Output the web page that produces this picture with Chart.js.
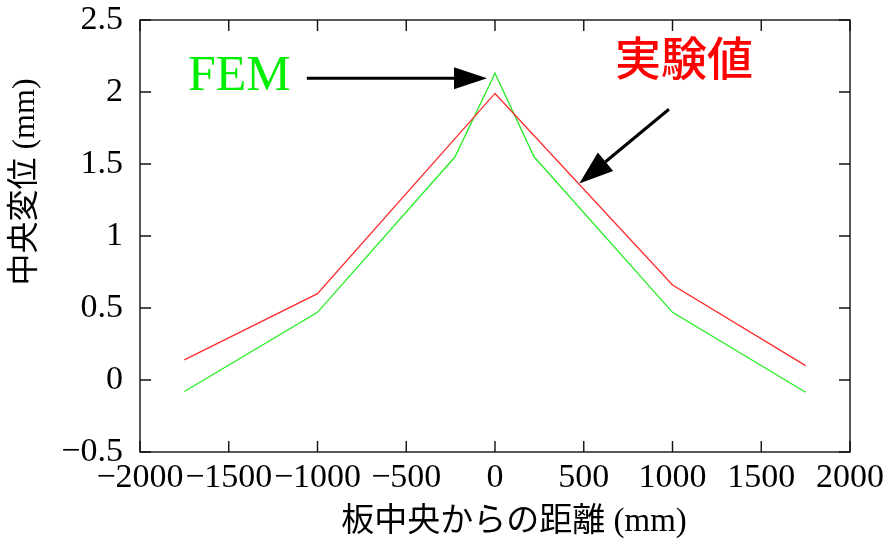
<!DOCTYPE html>
<html>
<head>
<meta charset="utf-8">
<script src="https://cdn.jsdelivr.net/npm/chart.js@4"></script>
<style>
html,body{margin:0;padding:0;background:#fff;}
#wrap{width:895px;height:546px;}
</style>
</head>
<body>
<div id="wrap"><canvas id="c" width="895" height="546"></canvas></div>
<script>
// Data
const xExp = [-1750, -1000, 0, 1000, 1750];
const yExp = [0.14, 0.60, 1.99, 0.66, 0.10];
const xFem = [-1750, -1000, -225, 0, 220, 1000, 1750];
const yFem = [-0.08, 0.47, 1.55, 2.13, 1.55, 0.47, -0.085];
const xTicks = [-2000, -1500, -1000, -500, 0, 500, 1000, 1500, 2000];
const yTicks = [-0.5, 0, 0.5, 1, 1.5, 2, 2.5];
const labelExp = '実験値';
const labelFem = 'FEM';
const xTitle = '板中央からの距離 (mm)';
const yTitle = '中央変位 (mm)';

const fmt = v => (v < 0 ? '\u2212' + String(-v) : String(v));

const framePlugin = {
  id: 'frame',
  afterDraw(chart) {
    const ctx = chart.ctx, a = chart.chartArea;
    const xs = chart.scales.x, ys = chart.scales.y;
    ctx.save();
    ctx.strokeStyle = '#111';
    ctx.lineWidth = 1.4;
    ctx.strokeRect(a.left, a.top, a.right - a.left, a.bottom - a.top);
    const L = 11;
    ctx.beginPath();
    xTicks.forEach(t => {
      const px = xs.getPixelForValue(t);
      ctx.moveTo(px, a.bottom); ctx.lineTo(px, a.bottom - L);
      ctx.moveTo(px, a.top); ctx.lineTo(px, a.top + L);
    });
    yTicks.forEach(t => {
      const py = ys.getPixelForValue(t);
      ctx.moveTo(a.left, py); ctx.lineTo(a.left + L, py);
      ctx.moveTo(a.right, py); ctx.lineTo(a.right - L, py);
    });
    ctx.stroke();

    // annotations
    const arrow = (x1, y1, x2, y2, hl, hw) => {
      const ang = Math.atan2(y2 - y1, x2 - x1);
      const bx = x2 - hl * Math.cos(ang), by = y2 - hl * Math.sin(ang);
      ctx.beginPath();
      ctx.strokeStyle = '#000';
      ctx.lineWidth = 3;
      ctx.moveTo(x1, y1); ctx.lineTo(bx, by); ctx.stroke();
      ctx.beginPath();
      ctx.moveTo(x2, y2);
      ctx.lineTo(bx + hw * Math.sin(ang), by - hw * Math.cos(ang));
      ctx.lineTo(bx - hw * Math.sin(ang), by + hw * Math.cos(ang));
      ctx.closePath();
      ctx.fillStyle = '#000';
      ctx.fill();
    };
    const X = v => xs.getPixelForValue(v), Y = v => ys.getPixelForValue(v);
    arrow(X(-1060), Y(2.095), X(-45), Y(2.095), 33, 11);
    arrow(X(980), Y(1.88), X(475), Y(1.365), 34, 12);

    ctx.textAlign = 'center';
    ctx.textBaseline = 'alphabetic';
    ctx.fillStyle = '#00ee00';
    ctx.font = '50px "Liberation Serif", serif';
    ctx.fillText(labelFem, X(-1440), Y(2.015));
    ctx.fillStyle = '#ff0000';
    ctx.font = '500 46px "Noto Sans CJK JP", sans-serif';
    ctx.fillText(labelExp, X(1065), Y(2.12));

    // axis titles
    ctx.fillStyle = '#000';
    ctx.textBaseline = 'middle';
    ctx.font = '33px "Liberation Serif", "Noto Sans CJK JP", serif';
    ctx.fillText(xTitle, 514, 522);
    ctx.save();
    ctx.translate(26, 182);
    ctx.rotate(-Math.PI / 2);
    ctx.font = '32px "Liberation Serif", "Noto Sans CJK JP", serif';
    ctx.fillText(yTitle, 0, 0);
    ctx.restore();
    ctx.restore();
  }
};

new Chart(document.getElementById('c'), {
  type: 'line',
  data: {
    datasets: [
      { label: labelExp, data: xExp.map((x, i) => ({x, y: yExp[i]})), borderColor: '#ff2a2a', borderWidth: 1.3, pointRadius: 0, tension: 0, fill: false },
      { label: labelFem, data: xFem.map((x, i) => ({x, y: yFem[i]})), borderColor: '#22ee22', borderWidth: 1.3, pointRadius: 0, tension: 0, fill: false }
    ]
  },
  options: {
    responsive: false,
    animation: false,
    devicePixelRatio: 1,
    layout: { padding: { left: 0, right: 45, top: 20, bottom: 0 } },
    plugins: { legend: { display: false }, tooltip: { enabled: false } },
    scales: {
      x: {
        type: 'linear', min: -2000, max: 2000,
        afterBuildTicks: s => { s.ticks = xTicks.map(v => ({value: v})); },
        afterFit: s => { s.height = 94; s.paddingLeft = 0; s.paddingRight = 0; },
        grid: { display: false, drawTicks: false },
        border: { display: false },
        ticks: { autoSkip: false, maxRotation: 0, minRotation: 0, padding: 6, color: '#000',
          font: { family: '"Liberation Serif", serif', size: 34 }, callback: v => fmt(v) },
        title: { display: false }
      },
      y: {
        type: 'linear', min: -0.5, max: 2.5,
        afterBuildTicks: s => { s.ticks = yTicks.map(v => ({value: v})); },
        afterFit: s => { s.width = 140; s.paddingTop = 0; s.paddingBottom = 0; },
        grid: { display: false, drawTicks: false },
        border: { display: false },
        ticks: { autoSkip: false, padding: 17, color: '#000',
          font: { family: '"Liberation Serif", serif', size: 34 }, callback: v => fmt(v) },
        title: { display: false }
      }
    }
  },
  plugins: [framePlugin]
});
</script>
</body>
</html>
